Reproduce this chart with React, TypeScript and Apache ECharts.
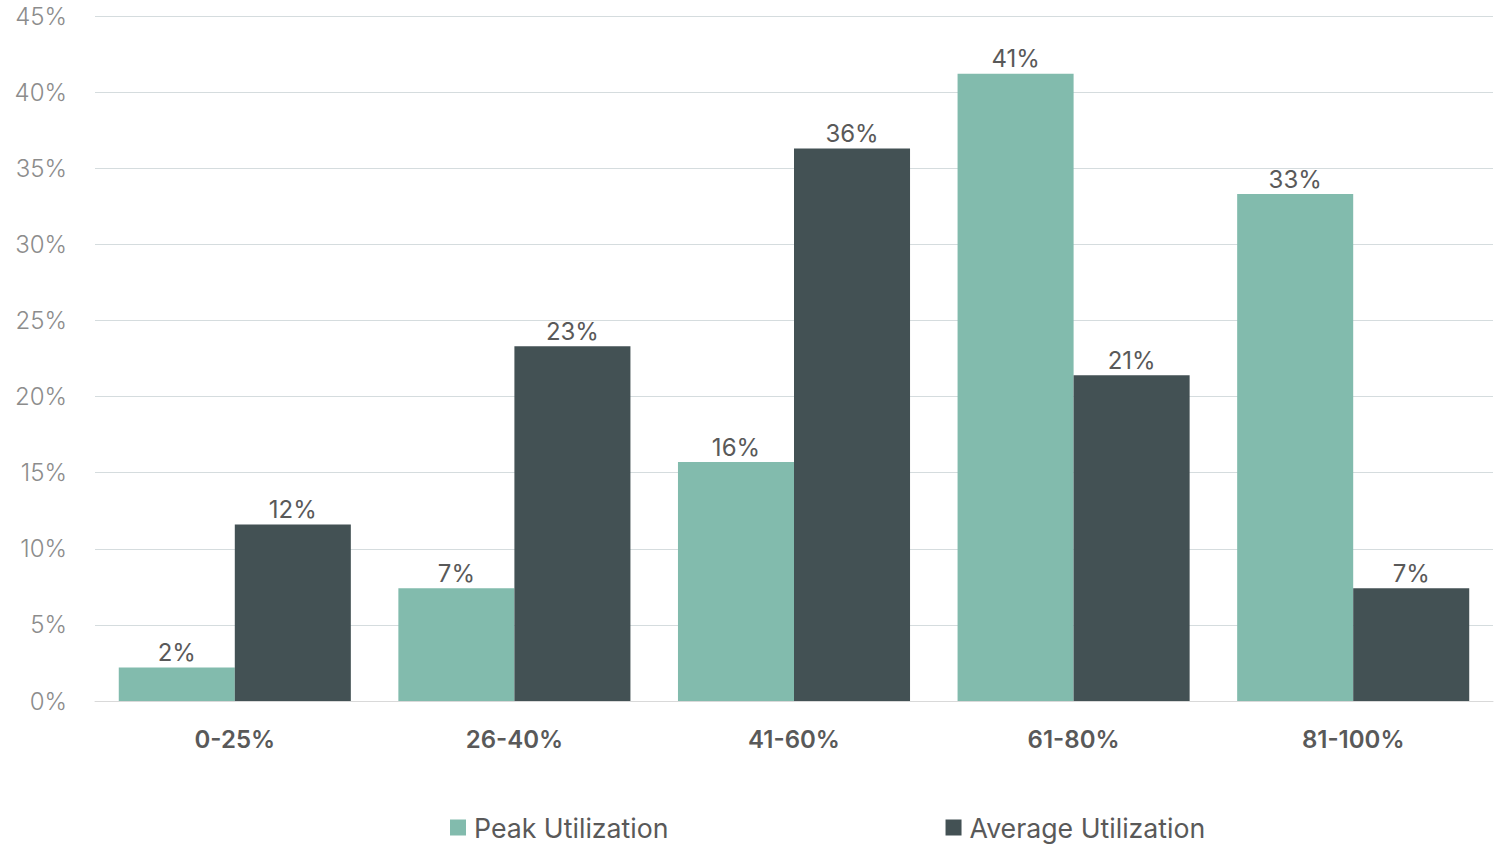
import React, { useEffect, useRef } from "react";
import * as echarts from "echarts";

const categories = ["0-25%", "26-40%", "41-60%", "61-80%", "81-100%"];
const peakUtilization = [2.2, 7.4, 15.7, 41.2, 33.3];
const averageUtilization = [11.6, 23.3, 36.3, 21.4, 7.4];
const yTicks = { min: 0, max: 45, interval: 5 };

const FONT = "Inter, Roboto, 'Noto Sans', sans-serif";

export default function App() {
  const ref = useRef<HTMLDivElement>(null);
  useEffect(() => {
    if (!ref.current) return;
    const chart = echarts.init(ref.current, null, { renderer: "svg" });
    const label = {
      show: true,
      position: "top" as const,
      distance: 3,
      color: "#595959",
      fontSize: 24,
      fontFamily: FONT,
      formatter: (p: any) => Math.round(p.value) + "%",
    };
    chart.setOption({
      animation: false,
      textStyle: { fontFamily: FONT },
      grid: { left: 95, right: 6, top: 16, bottom: 146, containLabel: false },
      legend: {
        bottom: 1,
        left: 445,
        itemWidth: 16,
        itemHeight: 16,
        itemGap: 277,
        icon: "rect",
        textStyle: { fontSize: 26.7, color: "#595959", fontFamily: FONT, padding: [0, 0, 0, 3] },
        data: ["Peak Utilization", "Average Utilization"],
      },
      xAxis: {
        type: "category",
        data: categories,
        axisLine: { show: true, lineStyle: { color: "#d9d9d9" } },
        axisTick: { show: false },
        axisLabel: {
          fontSize: 24,
          fontWeight: 600,
          color: "#595959",
          margin: 26,
          fontFamily: FONT,
        },
      },
      yAxis: {
        type: "value",
        min: yTicks.min,
        max: yTicks.max,
        interval: yTicks.interval,
        axisLine: { show: false },
        axisTick: { show: false },
        splitLine: { lineStyle: { color: "#d5dcde", width: 1 } },
        axisLabel: {
          formatter: "{value}%",
          fontSize: 24,
          fontWeight: 300,
          color: "#8c8c8c",
          margin: 28,
          fontFamily: FONT,
        },
      },
      series: [
        {
          name: "Peak Utilization",
          type: "bar",
          data: peakUtilization,
          barGap: "0%",
          barCategoryGap: "17%",
          itemStyle: { color: "#82bbad" },
          label,
        },
        {
          name: "Average Utilization",
          type: "bar",
          data: averageUtilization,
          barGap: "0%",
          barCategoryGap: "17%",
          itemStyle: { color: "#435154" },
          label,
        },
      ],
    });
    return () => chart.dispose();
  }, []);
  return (
    <div
      ref={ref}
      style={{ position: "fixed", left: 0, top: 0, width: 1499, height: 847, background: "#fff" }}
    />
  );
}
